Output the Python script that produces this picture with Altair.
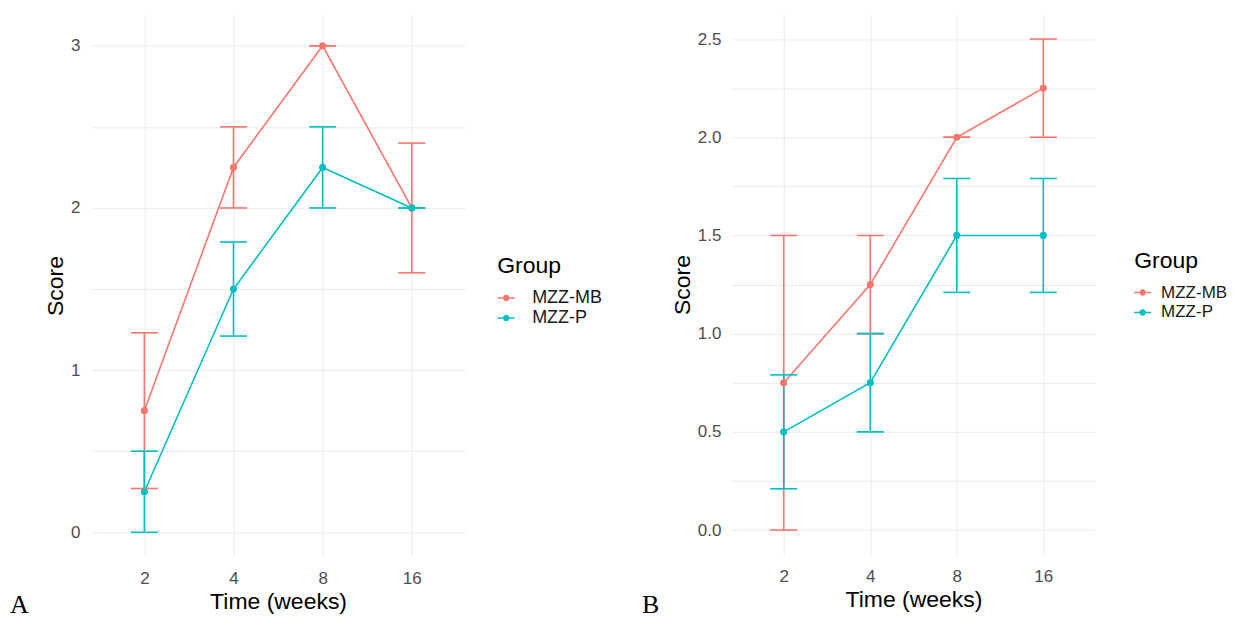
import altair as alt
import pandas as pd

weeks = ["2", "4", "8", "16"]
groups = ["MZZ-MB", "MZZ-P"]
colors = ["#F8766D", "#00BFC4"]
panel_labels = ["A", "B"]

# Panel A
a_mb_mean = [0.75, 2.25, 3.0, 2.0]
a_mb_lo = [0.27, 2.0, 3.0, 1.6]
a_mb_hi = [1.23, 2.5, 3.0, 2.4]
a_p_mean = [0.25, 1.5, 2.25, 2.0]
a_p_lo = [0.0, 1.21, 2.0, 2.0]
a_p_hi = [0.5, 1.79, 2.5, 2.0]
a_ticks = [0, 0.5, 1, 1.5, 2, 2.5, 3]

# Panel B
b_mb_mean = [0.75, 1.25, 2.0, 2.25]
b_mb_lo = [0.0, 1.0, 2.0, 2.0]
b_mb_hi = [1.5, 1.5, 2.0, 2.5]
b_p_mean = [0.5, 0.75, 1.5, 1.5]
b_p_lo = [0.21, 0.5, 1.21, 1.21]
b_p_hi = [0.79, 1.0, 1.79, 1.79]
b_ticks = [0, 0.25, 0.5, 0.75, 1.0, 1.25, 1.5, 1.75, 2.0, 2.25, 2.5]


def frame(mb_mean, mb_lo, mb_hi, p_mean, p_lo, p_hi):
    rows = []
    for g, (m, lo, hi) in zip(groups, [(mb_mean, mb_lo, mb_hi), (p_mean, p_lo, p_hi)]):
        for w, a, b, c in zip(weeks, m, lo, hi):
            rows.append({"Week": w, "Group": g, "mean": a, "lo": b, "hi": c})
    return pd.DataFrame(rows)


SYMBOL = ("M-1,-0.09H-0.36V0.09H-1Z M0.36,-0.09H1V0.09H0.36Z "
          "M-0.38,0A0.38,0.38 0 1 0 0.38,0A0.38,0.38 0 1 0 -0.38,0Z")


def panel(df, ticks, label_expr, domain, width, height, label, legend_x,
          legend_y, label_size, label_offset, text_x, text_y):
    xenc = alt.X("Week:O", sort=weeks,
                 scale=alt.Scale(type="point", padding=0.6),
                 axis=alt.Axis(title="Time (weeks)", grid=True, ticks=False,
                               domain=False, labelAngle=0, labelPadding=14,
                               titlePadding=4))
    yaxis = alt.Axis(title="Score", values=ticks, labelExpr=label_expr,
                     ticks=False, tickSize=0, domain=False, labelOverlap=False,
                     labelPadding=11, titlePadding=3)
    yscale = alt.Scale(domain=domain, nice=False, zero=False)
    legend = alt.Legend(title="Group", orient="none", legendX=legend_x,
                        legendY=legend_y, symbolType=SYMBOL,
                        symbolSize=289, symbolStrokeWidth=0,
                        symbolOpacity=1, labelFontSize=label_size,
                        titleFontSize=23, titleFontWeight="normal",
                        labelOffset=label_offset, titlePadding=11,
                        rowPadding=2, padding=0, offset=0,
                        labelColor="#1A1A1A", titleColor="#000000")
    color = alt.Color("Group:N", scale=alt.Scale(domain=groups, range=colors),
                      legend=legend)
    base = alt.Chart(df)
    line = base.mark_line(strokeWidth=1.6).encode(
        x=xenc, y=alt.Y("mean:Q", scale=yscale, axis=yaxis), color=color)
    rule = base.mark_rule(strokeWidth=1.6).encode(
        x=xenc, y=alt.Y("lo:Q", scale=yscale, axis=yaxis), y2="hi:Q", color=color)
    cap_lo = base.mark_tick(orient="horizontal", size=27, thickness=1.6, opacity=1).encode(
        x=xenc, y=alt.Y("lo:Q", scale=yscale, axis=yaxis), color=color)
    cap_hi = base.mark_tick(orient="horizontal", size=27, thickness=1.6, opacity=1).encode(
        x=xenc, y=alt.Y("hi:Q", scale=yscale, axis=yaxis), color=color)
    pts = base.mark_point(filled=True, size=45, opacity=1).encode(
        x=xenc, y=alt.Y("mean:Q", scale=yscale, axis=yaxis), color=color)
    txt = alt.Chart(alt.Data(values=[{"lab": label}])).mark_text(
        font="Liberation Serif", fontSize=26, align="left", baseline="bottom",
        color="#000000").encode(x=alt.value(text_x), y=alt.value(text_y), text="lab:N")
    return alt.layer(pts, line, rule, cap_lo, cap_hi, pts, txt).properties(
        width=width, height=height)


df_a = frame(a_mb_mean, a_mb_lo, a_mb_hi, a_p_mean, a_p_lo, a_p_hi)
df_b = frame(b_mb_mean, b_mb_lo, b_mb_hi, b_p_mean, b_p_lo, b_p_hi)

chart_a = panel(df_a, a_ticks, "datum.value % 1 === 0 ? format(datum.value, 'd') : ''",
                [-0.15, 3.193], 375, 543, panel_labels[0], 407, 241, 18, 17, -81, 604)
chart_b = panel(df_b, b_ticks, "(datum.value * 2) % 1 === 0 ? format(datum.value, '.1f') : ''",
                [-0.125, 2.625], 364, 541, panel_labels[1], 403, 236, 17, 10, -90, 604)

chart = alt.hconcat(chart_a, chart_b, spacing=40).resolve_scale(
    x="independent", y="independent", color="independent"
).resolve_legend(color="independent").properties(
    padding={"left": 2, "top": 6, "right": 0, "bottom": 0}
).configure(font="Liberation Sans").configure_view(stroke=None).configure_axis(
    labelFont="Liberation Sans", labelFontSize=17, labelColor="#4D4D4D",
    titleFont="Liberation Sans", titleFontSize=23, titleFontWeight="normal",
    titleColor="#000000", gridColor="#EBEBEB", gridWidth=1
).configure_legend(labelFont="Liberation Sans", titleFont="Liberation Sans")

chart.save("out.html", embed_options={"renderer": "svg", "actions": False})
